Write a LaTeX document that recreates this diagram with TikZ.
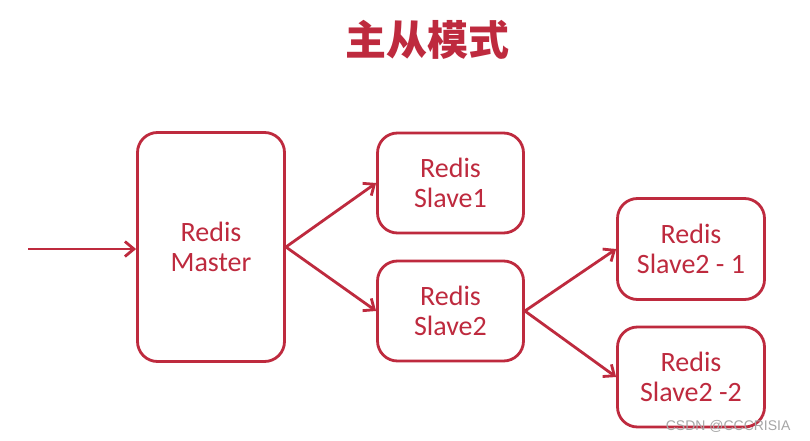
\documentclass[tikz,border=0pt]{standalone}
\usepackage{fontspec}
\setmainfont{Carlito}
\newfontfamily\cjk{Noto Sans CJK SC}
\newfontfamily\wmfont{Liberation Sans}
\usetikzlibrary{arrows.meta}
\definecolor{rr}{RGB}{190,42,62}
\begin{document}
\begin{tikzpicture}[x=1pt,y=-1pt,
  box/.style={draw=rr,line width=2.8pt,rounded corners=20pt,text=rr,font=\fontsize{28}{30}\selectfont,align=center,inner sep=0pt},
  link/.style={draw=rr,line width=2.8pt,-{Straight Barb[length=9pt,width=15pt,line width=2.8pt]}}]
\useasboundingbox (0,0) rectangle (810,441);
\fill[white] (0,0) rectangle (810,441);
\node[text=rr,font=\cjk\bfseries\fontsize{41}{44}\selectfont] (title) at (427,40) {主从模式};
\node[box,minimum width=147pt,minimum height=229pt] (m) at (211,247) {Redis\\Master};
\node[box,minimum width=146pt,minimum height=100pt] (s1) at (450.5,183) {Redis\\Slave1};
\node[box,minimum width=146pt,minimum height=100pt] (s2) at (450.5,311) {Redis\\Slave2};
\node[box,minimum width=147pt,minimum height=101pt] (s21) at (691,249) {Redis\\Slave2 - 1};
\node[box,minimum width=147pt,minimum height=100pt] (s22) at (691,377) {Redis\\Slave2 -2};
\coordinate (in) at (28,249);
\draw[link] (in) -- (m.west|-in);
\draw[link] (m.east) -- (s1.west);
\draw[link] (m.east) -- (s2.west);
\draw[link] (s2.east) -- (s21.west);
\draw[link] (s2.east) -- (s22.west);
\node[text=black!35,font=\wmfont\fontsize{14}{16}\selectfont,anchor=east] (wm) at (794,426) {CSDN @CCCRISIA};
\end{tikzpicture}
\end{document}
